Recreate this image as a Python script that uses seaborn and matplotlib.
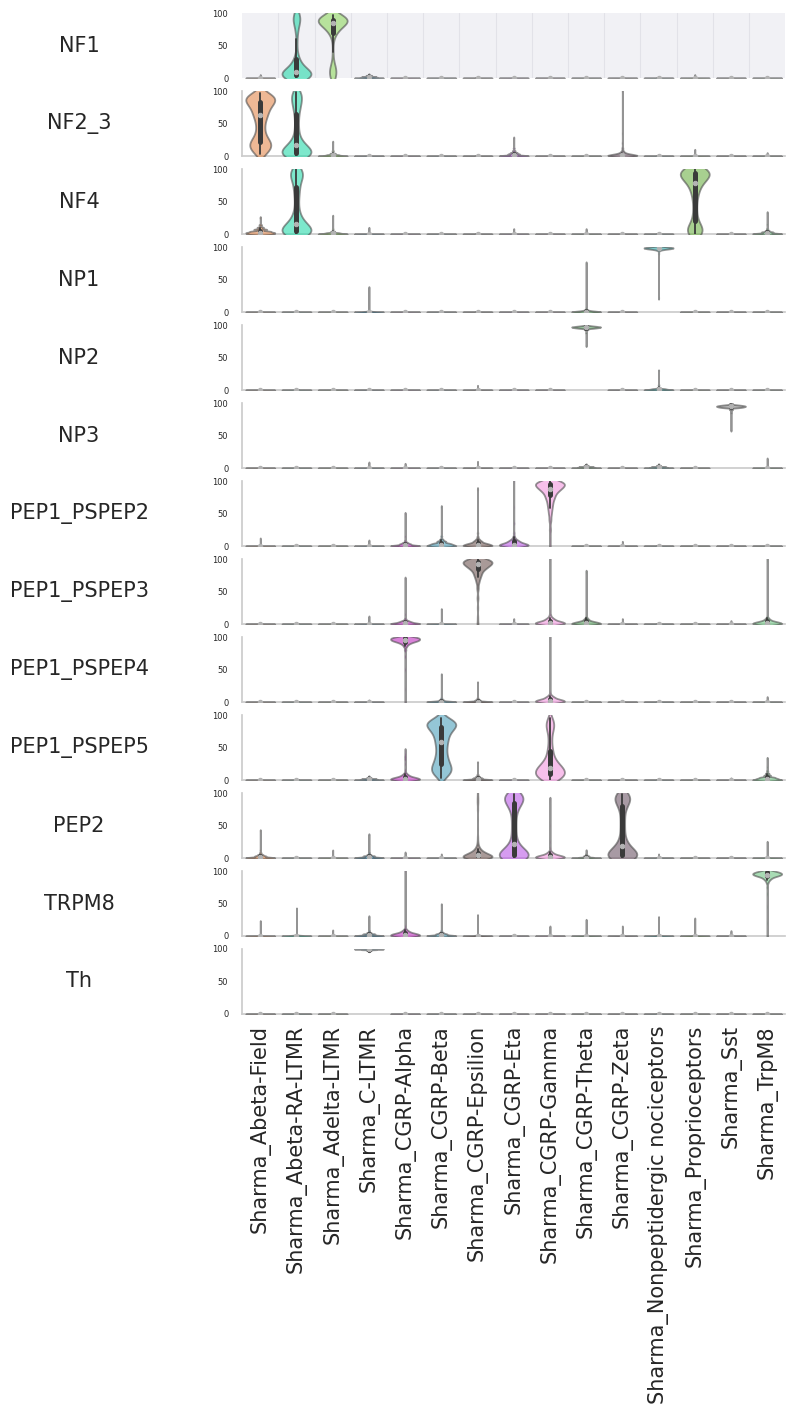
import numpy as np
import pandas as pd
import matplotlib
matplotlib.use("Agg")
import matplotlib.pyplot as plt
from matplotlib.collections import PolyCollection
import seaborn as sns

CATEGORIES = ["Sharma_Abeta-Field", "Sharma_Abeta-RA-LTMR", "Sharma_Adelta-LTMR",
              "Sharma_C-LTMR", "Sharma_CGRP-Alpha", "Sharma_CGRP-Beta",
              "Sharma_CGRP-Epsilion", "Sharma_CGRP-Eta", "Sharma_CGRP-Gamma",
              "Sharma_CGRP-Theta", "Sharma_CGRP-Zeta",
              "Sharma_Nonpeptidergic nociceptors", "Sharma_Proprioceptors",
              "Sharma_Sst", "Sharma_TrpM8"]
ROW_LABELS = ["NF1", "NF2_3", "NF4", "NP1", "NP2", "NP3", "PEP1_PSPEP2",
              "PEP1_PSPEP3", "PEP1_PSPEP4", "PEP1_PSPEP5", "PEP2", "TRPM8", "Th"]
COLORS = ["#e3894e", "#26d9aa", "#91d961", "#1a7fae", "#c030c0", "#4da0bb",
          "#715753", "#bb5ae6", "#f396df", "#5aa361", "#6e5767", "#2aa8a8",
          "#6eb146", "#8a8a8a", "#6ec582"]
YTICKS = [0, 50, 100]

# each violin: list of (value, number of cells)
FLAT = [(0, 200), (1, 20), (2, 6)]

NF1 = [
    [(0, 200), (1, 20), (3, 3), (5, 1)],
    [(0, 10), (2, 9), (4, 9), (6, 8), (8, 8), (10, 7), (13, 6), (16, 5), (20, 4), (24, 3),
     (28, 3), (33, 2), (40, 1), (50, 1), (60, 1), (70, 2), (78, 2), (84, 3), (88, 3),
     (92, 3), (96, 3), (100, 3)],
    [(0, 3), (5, 3), (10, 3), (15, 3), (20, 2), (28, 1), (40, 1), (55, 1), (65, 2), (70, 3),
     (74, 4), (78, 5), (82, 7), (85, 8), (88, 9), (90, 9), (93, 8), (95, 6), (97, 3)],
    [(0, 100), (1, 60), (2, 50), (4, 20), (6, 2)],
    FLAT, FLAT, FLAT, FLAT, FLAT, FLAT, FLAT, FLAT,
    [(0, 200), (1, 20), (3, 4), (5, 1)],
    FLAT, FLAT,
]
NF2_3 = [
    [(3, 2), (6, 3), (10, 4), (14, 5), (18, 5), (22, 5), (27, 4), (33, 3), (40, 3), (47, 3),
     (54, 3), (60, 4), (66, 5), (72, 5), (78, 6), (83, 7), (87, 7), (91, 7), (94, 5), (97, 2)],
    [(0, 8), (2, 8), (4, 7), (7, 7), (10, 6), (13, 6), (17, 5), (22, 4), (28, 3), (35, 2),
     (42, 2), (50, 2), (58, 2), (65, 2), (72, 3), (78, 3), (84, 4), (90, 4), (95, 4), (99, 3)],
    [(0, 100), (1, 50), (2, 40), (4, 20), (8, 5), (22, 1)],
    [(0, 200), (1, 20), (2, 3)],
    FLAT, FLAT, FLAT,
    [(0, 80), (1, 50), (3, 40), (5, 25), (8, 10), (12, 4), (28, 1)],
    FLAT, FLAT,
    [(0, 80), (1, 50), (2, 40), (4, 25), (7, 12), (12, 5), (20, 2), (35, 1), (100, 1)],
    FLAT,
    [(0, 200), (1, 20), (3, 3), (10, 1)],
    FLAT,
    [(0, 200), (1, 20), (5, 1)],
]
NF4 = [
    [(0, 40), (2, 40), (4, 30), (7, 20), (10, 10), (14, 4), (25, 1)],
    [(0, 9), (2, 9), (5, 8), (8, 7), (12, 6), (16, 5), (20, 4), (26, 3), (32, 3), (40, 2),
     (48, 2), (56, 2), (64, 3), (72, 3), (80, 3), (86, 4), (91, 4), (95, 4), (98, 3), (100, 2)],
    [(0, 100), (1, 50), (2, 40), (4, 15), (8, 3), (28, 1)],
    [(0, 200), (1, 20), (3, 2), (10, 1)],
    FLAT, FLAT, FLAT,
    [(0, 200), (1, 20), (8, 1)],
    FLAT,
    [(0, 200), (1, 20), (8, 1)],
    FLAT, FLAT,
    [(0, 5), (3, 5), (6, 5), (10, 4), (14, 3), (20, 3), (28, 2), (36, 2), (44, 2), (52, 2),
     (60, 3), (66, 3), (72, 4), (78, 5), (83, 6), (87, 7), (91, 8), (94, 8), (97, 9), (100, 8)],
    FLAT,
    [(0, 80), (1, 50), (3, 40), (5, 15), (8, 5), (15, 2), (33, 1)],
]
NP1 = [
    FLAT, FLAT, FLAT,
    [(0, 200), (1, 20), (3, 2), (38, 1)],
    FLAT, FLAT, FLAT, FLAT, FLAT,
    [(0, 150), (1, 40), (3, 15), (6, 4), (75, 1)],
    FLAT,
    [(22, 1), (90, 2), (95, 10), (97, 40), (98, 60), (99, 60), (100, 40)],
    FLAT, FLAT, FLAT,
]
NP2 = [
    FLAT, FLAT, FLAT, FLAT, FLAT, FLAT,
    [(0, 200), (1, 20), (7, 1)],
    FLAT, FLAT,
    [(68, 1), (88, 3), (93, 10), (95, 30), (96, 50), (97, 60), (98, 40), (99, 15), (100, 5)],
    FLAT,
    [(0, 100), (1, 50), (2, 40), (4, 10), (8, 3), (30, 1)],
    FLAT, FLAT, FLAT,
]
NP3 = [
    FLAT, FLAT, FLAT,
    [(0, 200), (1, 20), (9, 1)],
    [(0, 200), (1, 20), (7, 1)],
    FLAT,
    [(0, 200), (1, 20), (10, 1)],
    FLAT, FLAT,
    [(0, 100), (1, 60), (2, 50), (4, 15), (6, 2)],
    FLAT,
    [(0, 100), (1, 60), (2, 50), (4, 15), (6, 2)],
    FLAT,
    [(58, 1), (85, 3), (90, 10), (93, 40), (94, 50), (95, 60), (96, 50), (97, 30), (99, 10)],
    [(0, 200), (1, 20), (15, 1)],
]
PEP1_PSPEP2 = [
    [(0, 200), (1, 20), (12, 1)],
    FLAT, FLAT,
    [(0, 200), (1, 20), (9, 1)],
    [(0, 80), (1, 50), (3, 40), (5, 20), (8, 6), (15, 2), (50, 1)],
    [(0, 70), (2, 50), (4, 40), (7, 25), (10, 10), (15, 3), (60, 1)],
    [(0, 70), (2, 50), (4, 40), (7, 25), (10, 12), (14, 4), (20, 2), (87, 1)],
    [(0, 60), (2, 50), (4, 40), (7, 30), (10, 15), (14, 6), (20, 3), (35, 2), (60, 1), (100, 1)],
    [(0, 1), (10, 1), (25, 2), (40, 3), (50, 4), (58, 5), (65, 6), (72, 8), (78, 10), (84, 12),
     (88, 14), (92, 16), (95, 16), (98, 14), (100, 10)],
    FLAT,
    [(0, 200), (1, 20), (7, 1)],
    FLAT, FLAT, FLAT, FLAT,
]
PEP1_PSPEP3 = [
    FLAT, FLAT, FLAT,
    [(0, 200), (1, 20), (12, 1)],
    [(0, 80), (1, 50), (3, 40), (5, 20), (8, 6), (15, 2), (70, 1)],
    [(0, 200), (1, 20), (3, 3), (23, 1)],
    [(0, 2), (10, 1), (25, 1), (40, 2), (55, 3), (65, 5), (72, 8), (78, 11), (84, 14), (88, 18),
     (92, 22), (95, 22), (98, 18), (100, 12)],
    [(0, 200), (1, 20), (8, 1)],
    [(0, 60), (2, 50), (4, 40), (7, 25), (10, 12), (14, 5), (20, 2), (35, 1), (100, 1)],
    [(0, 70), (2, 50), (4, 30), (7, 15), (10, 5), (80, 1)],
    [(0, 200), (1, 20), (8, 1)],
    FLAT, FLAT,
    [(0, 200), (1, 20), (5, 1)],
    [(0, 70), (2, 50), (4, 30), (7, 15), (10, 5), (98, 1)],
]
PEP1_PSPEP4 = [
    FLAT, FLAT, FLAT,
    [(0, 200), (1, 20), (3, 1)],
    [(0, 1), (20, 1), (50, 2), (70, 3), (80, 6), (86, 12), (90, 25), (93, 40), (95, 50),
     (97, 50), (99, 40), (100, 30)],
    [(0, 100), (1, 50), (3, 20), (6, 5), (42, 1)],
    [(0, 100), (1, 50), (3, 20), (6, 5), (30, 1)],
    FLAT,
    [(0, 60), (2, 50), (4, 40), (7, 25), (10, 10), (14, 3), (98, 1)],
    FLAT, FLAT, FLAT, FLAT, FLAT,
    [(0, 200), (1, 20), (8, 1)],
]
PEP1_PSPEP5 = [
    FLAT, FLAT, FLAT,
    [(0, 100), (1, 60), (2, 50), (4, 15), (6, 2)],
    [(0, 60), (2, 50), (4, 40), (7, 20), (10, 8), (15, 3), (25, 2), (32, 3), (36, 3), (40, 2),
     (45, 1)],
    [(3, 1), (6, 3), (10, 5), (14, 6), (18, 6), (23, 6), (28, 5), (34, 5), (40, 4), (46, 4),
     (52, 4), (58, 5), (64, 5), (70, 6), (76, 7), (81, 8), (85, 9), (89, 9), (92, 6), (95, 2)],
    [(0, 80), (1, 50), (3, 30), (5, 15), (8, 5), (27, 1)],
    FLAT,
    [(0, 4), (3, 6), (6, 8), (10, 9), (14, 9), (18, 8), (22, 7), (27, 5), (32, 4), (38, 3),
     (45, 3), (52, 2), (60, 2), (68, 2), (75, 2), (80, 3), (85, 3), (90, 3), (95, 2)],
    FLAT, FLAT, FLAT, FLAT,
    [(0, 200), (1, 20), (3, 1)],
    [(0, 60), (2, 40), (4, 30), (7, 15), (10, 8), (14, 3), (20, 1), (33, 1)],
]
PEP2 = [
    [(0, 80), (1, 50), (3, 40), (5, 20), (8, 6), (12, 2), (42, 1)],
    FLAT,
    [(0, 200), (1, 20), (12, 1)],
    [(0, 80), (1, 50), (3, 40), (5, 15), (8, 4), (36, 1)],
    [(0, 200), (1, 20), (9, 1)],
    [(0, 200), (1, 20), (6, 1)],
    [(0, 60), (2, 50), (4, 40), (7, 30), (10, 20), (14, 12), (18, 6), (24, 3), (32, 2), (45, 1),
     (60, 1), (75, 2), (85, 3), (92, 3), (100, 2)],
    [(0, 14), (2, 13), (5, 11), (8, 9), (12, 7), (16, 5), (21, 4), (27, 3), (34, 3), (42, 3),
     (50, 3), (58, 3), (66, 3), (74, 4), (80, 5), (85, 6), (89, 7), (93, 8), (96, 8), (99, 6)],
    [(0, 60), (2, 50), (4, 40), (7, 20), (10, 8), (15, 3), (25, 2), (50, 1), (90, 1)],
    [(0, 100), (1, 50), (3, 20), (6, 5), (12, 1)],
    [(0, 14), (2, 12), (5, 10), (8, 9), (12, 8), (16, 6), (21, 5), (27, 4), (34, 3), (42, 3),
     (50, 3), (58, 3), (66, 3), (74, 3), (80, 4), (85, 5), (89, 6), (93, 6), (96, 6), (99, 5)],
    [(0, 200), (1, 20), (6, 1)],
    FLAT, FLAT,
    [(0, 200), (1, 20), (25, 1)],
]
TRPM8 = [
    [(0, 200), (1, 20), (23, 1)],
    [(0, 200), (1, 20), (42, 1)],
    [(0, 200), (1, 20), (9, 1)],
    [(0, 80), (1, 50), (3, 40), (5, 15), (8, 4), (30, 1)],
    [(0, 60), (2, 50), (4, 40), (7, 20), (10, 8), (15, 2), (100, 1)],
    [(0, 80), (1, 50), (3, 40), (5, 15), (8, 4), (48, 1)],
    [(0, 200), (1, 20), (32, 1)],
    FLAT,
    [(0, 200), (1, 20), (15, 1)],
    [(0, 200), (1, 20), (25, 1)],
    [(0, 200), (1, 20), (15, 1)],
    [(0, 200), (1, 20), (29, 1)],
    [(0, 200), (1, 20), (27, 1)],
    [(0, 200), (1, 20), (8, 1)],
    [(0, 1), (20, 1), (45, 1), (65, 2), (75, 3), (82, 6), (86, 12), (89, 20), (92, 35),
     (94, 45), (96, 50), (98, 40), (100, 25)],
]
TH = [
    FLAT, FLAT, FLAT,
    [(96, 3), (98, 20), (99, 60), (100, 120)],
    FLAT, FLAT, FLAT, FLAT, FLAT, FLAT, FLAT, FLAT, FLAT, FLAT, FLAT,
]

ROWS = [NF1, NF2_3, NF4, NP1, NP2, NP3, PEP1_PSPEP2, PEP1_PSPEP3, PEP1_PSPEP4,
        PEP1_PSPEP5, PEP2, TRPM8, TH]


def row_frame(row):
    parts = []
    for cat, pairs in zip(CATEGORIES, row):
        vals = np.repeat([p[0] for p in pairs], [p[1] for p in pairs]).astype(float)
        parts.append(pd.DataFrame({"cat": cat, "value": vals}))
    return pd.concat(parts, ignore_index=True)


sns.set_theme(style="white")
plt.rcParams["font.family"] = ["DejaVu Sans"]

fig, axes = plt.subplots(len(ROWS), 1, figsize=(7.94, 14.16), dpi=100, sharex=True)
fig.subplots_adjust(left=0.305, right=0.989, top=0.9908, bottom=0.2839, hspace=0.2)

palette = dict(zip(CATEGORIES, COLORS))
for i, (ax, row, label) in enumerate(zip(axes, ROWS, ROW_LABELS)):
    df = row_frame(row)
    sns.violinplot(data=df, x="cat", y="value", hue="cat", order=CATEGORIES,
                   hue_order=CATEGORIES, palette=palette, cut=2, bw_adjust=0.6,
                   density_norm="width",
                   inner="box", saturation=1, alpha=0.6, linewidth=1.3,
                   linecolor="#3a3a3a",
                   inner_kws=dict(box_width=3.6, whis_width=1.3, marker="o",
                                  markersize=3.2),
                   legend=False, ax=ax)
    for coll in ax.collections:
        if isinstance(coll, PolyCollection):
            coll.set_edgecolor((0.3, 0.3, 0.3, 0.65))
            coll.set_zorder(3)
    for ln in ax.lines:
        ln.set_zorder(4)
        if ln.get_marker() == "o":
            ln.set_markerfacecolor("#b4b4b4")
            ln.set_markeredgecolor("#b4b4b4")
            ln.set_zorder(5)
    ax.set_ylim(0, 100)
    ax.set_xlim(-0.5, len(CATEGORIES) - 0.5)
    ax.set_yticks(YTICKS)
    ax.set_ylabel("")
    ax.set_xlabel("")
    ax.tick_params(axis="y", labelsize=6, length=0, pad=10, labelcolor="#262626")
    for s in ["top", "right"]:
        ax.spines[s].set_visible(False)
    for s in ["left", "bottom"]:
        ax.spines[s].set_color("#cccccc")
        ax.spines[s].set_linewidth(1.25)
        ax.spines[s].set_zorder(1)
    if i == 0:
        ax.set_facecolor("#f1f1f5")
        for s in ["left", "bottom"]:
            ax.spines[s].set_visible(False)
        ax.set_xticks(np.arange(0.5, len(CATEGORIES) - 1, 1), minor=True)
        ax.grid(which="minor", axis="x", color="#e2e2e8", linewidth=0.8)
        ax.set_axisbelow(True)
        ax.tick_params(axis="x", which="minor", length=0)
    if i < len(ROWS) - 1:
        ax.tick_params(axis="x", labelbottom=False, length=0)
    else:
        ax.tick_params(axis="x", labelsize=15, rotation=90, length=0, pad=8,
                       labelcolor="#262626")
    pos = ax.get_position()
    fig.text(79 / 794, (pos.y0 + pos.y1) / 2, label, ha="center", va="center",
             fontsize=15, color="#262626")

fig.savefig("out.png", dpi=100)
